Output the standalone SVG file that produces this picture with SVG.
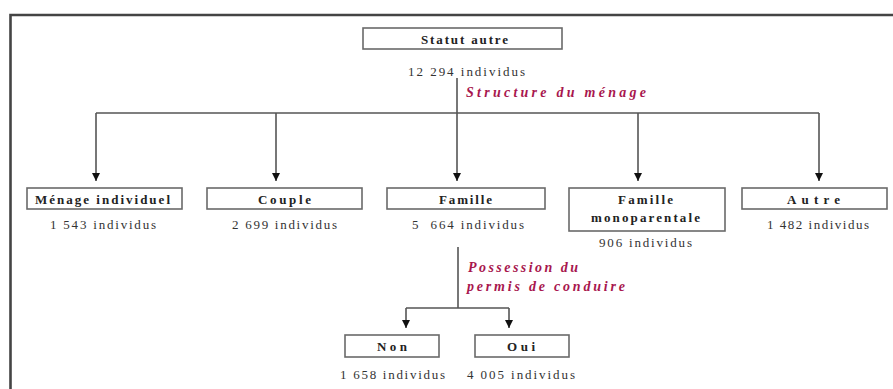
<svg xmlns="http://www.w3.org/2000/svg" width="893" height="389" viewBox="0 0 893 389">
  <defs>
    <marker id="arr" viewBox="0 0 10 10" refX="10" refY="5" markerUnits="userSpaceOnUse" markerWidth="8" markerHeight="10" orient="auto">
      <path d="M0,0 L10,5 L0,10 z" fill="#111"/>
    </marker>
    <style>
      .box { fill: #ffffff; stroke: #6a6a6a; stroke-width: 1.6; }
      .lbl { font-family: "Liberation Serif", "Times New Roman", serif; font-weight: bold; font-size: 13px; fill: #222; }
      .num { font-family: "Liberation Serif", "Times New Roman", serif; font-size: 13px; fill: #333; }
      .cat { font-family: "Liberation Serif", "Times New Roman", serif; font-weight: bold; font-style: italic; font-size: 14px; fill: #a8174e; }
      .conn { fill: none; stroke: #555; stroke-width: 1.6; }
      .frame { fill: none; stroke: #444; stroke-width: 2.6; }
    </style>
  </defs>
  <rect x="0" y="0" width="893" height="389" fill="#ffffff"/>
  <path class="frame" d="M10.5,400 L10.5,15 L900,15"/>

  <g id="connectors">
    <path class="conn" d="M457,78 L457,113"/>
    <path class="conn" d="M96,113 L819,113"/>
    <path class="conn" d="M96,113 L96,181" marker-end="url(#arr)"/>
    <path class="conn" d="M276,113 L276,181" marker-end="url(#arr)"/>
    <path class="conn" d="M457,113 L457,181" marker-end="url(#arr)"/>
    <path class="conn" d="M638,113 L638,181" marker-end="url(#arr)"/>
    <path class="conn" d="M819,113 L819,181" marker-end="url(#arr)"/>
    <path class="conn" d="M458,247 L458,308"/>
    <path class="conn" d="M406,308 L509,308"/>
    <path class="conn" d="M406,308 L406,328" marker-end="url(#arr)"/>
    <path class="conn" d="M509,308 L509,328" marker-end="url(#arr)"/>
    <text class="cat" x="466" y="97" textLength="180" lengthAdjust="spacing">Structure du ménage</text>
    <text class="cat" x="468" y="272" textLength="110" lengthAdjust="spacing">Possession du</text>
    <text class="cat" x="467" y="291" textLength="158" lengthAdjust="spacing">permis de conduire</text>
  </g>

  <g id="statut-autre">
    <rect class="box" x="363" y="28" width="199" height="21"/>
    <text class="lbl" x="421" y="44" textLength="87" lengthAdjust="spacing">Statut autre</text>
    <text class="num" x="408" y="76" textLength="117" lengthAdjust="spacing">12 294 individus</text>
  </g>

  <g id="menage-individuel">
    <rect class="box" x="27" y="188" width="155" height="21"/>
    <text class="lbl" x="35" y="204" textLength="135" lengthAdjust="spacing">Ménage individuel</text>
    <text class="num" x="50" y="229" textLength="106" lengthAdjust="spacing">1 543 individus</text>
  </g>

  <g id="couple">
    <rect class="box" x="207" y="188" width="155" height="21"/>
    <text class="lbl" x="258" y="204" textLength="53" lengthAdjust="spacing">Couple</text>
    <text class="num" x="232" y="229" textLength="105" lengthAdjust="spacing">2 699 individus</text>
  </g>

  <g id="famille">
    <rect class="box" x="387" y="188" width="158" height="21"/>
    <text class="lbl" x="439" y="204" textLength="53" lengthAdjust="spacing">Famille</text>
    <text class="num" x="412" y="229" textLength="112" lengthAdjust="spacing" xml:space="preserve">5  664 individus</text>
  </g>

  <g id="famille-monoparentale">
    <rect class="box" x="569" y="188" width="156" height="43"/>
    <text class="lbl" x="618" y="204" textLength="55" lengthAdjust="spacing">Famille</text>
    <text class="lbl" x="591" y="222" textLength="109" lengthAdjust="spacing">monoparentale</text>
    <text class="num" x="599" y="247" textLength="93" lengthAdjust="spacing">906 individus</text>
  </g>

  <g id="autre">
    <rect class="box" x="742" y="188" width="145" height="21"/>
    <text class="lbl" x="787" y="204" textLength="53" lengthAdjust="spacing">Autre</text>
    <text class="num" x="767" y="229" textLength="102" lengthAdjust="spacing">1 482 individus</text>
  </g>

  <g id="non">
    <rect class="box" x="345" y="335" width="94" height="22"/>
    <text class="lbl" x="377" y="351" textLength="30" lengthAdjust="spacing">Non</text>
    <text class="num" x="340" y="379" textLength="105" lengthAdjust="spacing">1 658 individus</text>
  </g>

  <g id="oui">
    <rect class="box" x="475" y="335" width="94" height="22"/>
    <text class="lbl" x="507" y="351" textLength="28" lengthAdjust="spacing">Oui</text>
    <text class="num" x="467" y="379" textLength="108" lengthAdjust="spacing">4 005 individus</text>
  </g>
</svg>
